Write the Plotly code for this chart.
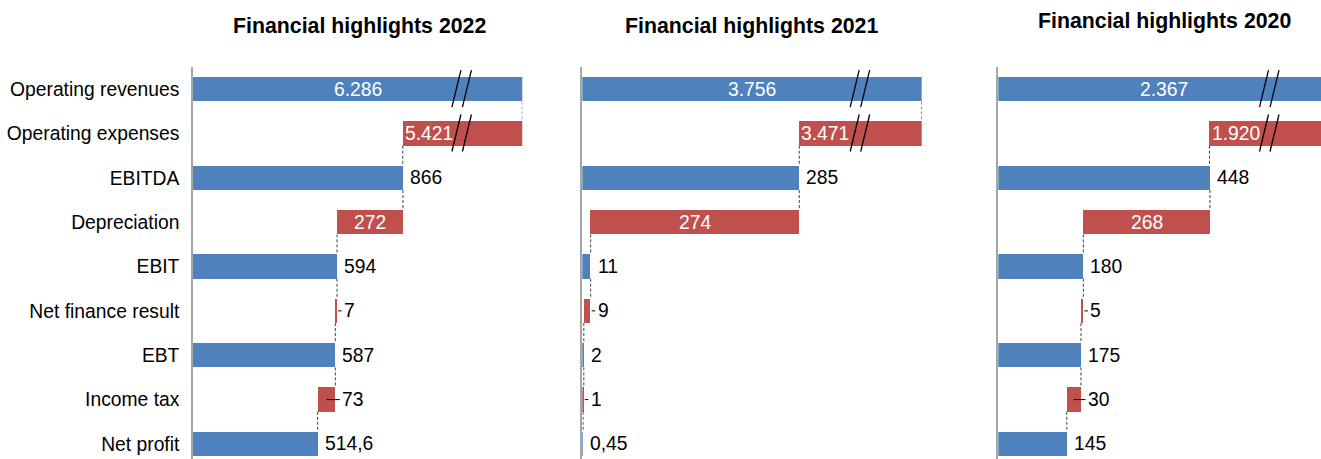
import plotly.graph_objects as go

# ---- data -------------------------------------------------------------
categories = ["Operating revenues", "Operating expenses", "EBITDA", "Depreciation",
              "EBIT", "Net finance result", "EBT", "Income tax", "Net profit"]
# "total" bars start at zero, "minus" bars hang down from the previous total
kinds = ["total", "minus", "total", "minus", "total", "minus", "total", "minus", "total"]

years = ["2022", "2021", "2020"]
values_2022 = [6286, 5421, 866, 272, 594, 7, 587, 73, 514.6]
values_2021 = [3756, 3471, 285, 274, 11, 9, 2, 1, 0.45]
values_2020 = [2367, 1920, 448, 268, 180, 5, 175, 30, 145]
labels_2022 = ["6.286", "5.421", "866", "272", "594", "7", "587", "73", "514,6"]
labels_2021 = ["3.756", "3.471", "285", "274", "11", "9", "2", "1", "0,45"]
labels_2020 = ["2.367", "1.920", "448", "268", "180", "5", "175", "30", "145"]

# ---- layout constants -------------------------------------------------
W, H = 1321, 459
TOP = 67
BAR_W = 0.55
BLUE = "#4F81BD"
RED = "#C0504D"
FONT = "Arial, 'Liberation Sans', sans-serif"
LABEL_SIZE = 19.3
TITLE_SIZE = 21.3

panels = [
    dict(year=years[0], values=values_2022, labels=labels_2022,
         left=193.0, right=522.3, xmax=1358.0, cut=1358.0, brk=1109.0,
         title_x=359, title_y=26),
    dict(year=years[1], values=values_2021, labels=labels_2021,
         left=582.3, right=921.7, xmax=445.8, cut=445.8, brk=365.0,
         title_x=751.5, title_y=26),
    dict(year=years[2], values=values_2020, labels=labels_2020,
         left=998.3, right=1321.0, xmax=683.0, cut=702.0, brk=574.0,
         title_x=1164, title_y=21),
]

fig = go.Figure()
shapes = []
annotations = []
plot_h = H - TOP

for k, p in enumerate(panels):
    suffix = "" if k == 0 else str(k + 1)
    xref, yref = "x" + suffix, "y" + suffix
    vals, labs = p["values"], p["labels"]
    px_per_unit = (p["right"] - p["left"]) / p["xmax"]

    # waterfall geometry
    bases, colors = [], []
    running = 0.0
    for kind, v in zip(kinds, vals):
        if kind == "total":
            bases.append(0.0)
            running = v
            colors.append(BLUE)
        else:
            bases.append(running - v)
            running = running - v
            colors.append(RED)

    fig.add_trace(go.Bar(
        x=vals, y=categories, base=bases, orientation="h",
        marker=dict(color=colors, line=dict(width=0)),
        width=BAR_W, xaxis=xref, yaxis=yref,
        hoverinfo="skip", showlegend=False,
    ))

    # dashed step connectors between neighbouring bars
    for i in range(len(vals) - 1):
        if i == 0:
            xpos = min(vals[0], p["cut"])
        elif kinds[i] == "total":
            xpos = vals[i]
        else:
            xpos = bases[i]
        shapes.append(dict(
            type="line", xref=xref, yref=yref,
            x0=xpos, x1=xpos, y0=i + BAR_W / 2, y1=i + 1 - BAR_W / 2,
            line=dict(color="#404040", width=1, dash="3px,2px"),
        ))

    # axis-break marks on the two truncated bars
    for i in (0, 1):
        for dx in (-10.0, 0.5):
            shapes.append(dict(
                type="line", xref=xref, yref=yref,
                xsizemode="pixel", ysizemode="pixel",
                xanchor=p["brk"], yanchor=i,
                x0=dx, x1=dx + 9.0, y0=-18, y1=19,
                line=dict(color="black", width=1.3),
            ))

    # value labels
    for i, (v, lab) in enumerate(zip(vals, labs)):
        top = bases[i] + v
        if i == 0:
            annotations.append(dict(
                x=min(v, p["cut"]) / 2, y=categories[i], xref=xref, yref=yref,
                text=lab, showarrow=False, xanchor="center",
                font=dict(color="white", size=LABEL_SIZE, family=FONT)))
        elif i == 1:
            annotations.append(dict(
                x=bases[i], y=categories[i], xref=xref, yref=yref,
                text=lab, showarrow=False, xanchor="left", xshift=0,
                font=dict(color="white", size=LABEL_SIZE, family=FONT)))
        elif kinds[i] == "minus" and v * px_per_unit > 50:
            annotations.append(dict(
                x=bases[i] + v / 2, y=categories[i], xref=xref, yref=yref,
                text=lab, showarrow=False, xanchor="center",
                font=dict(color="white", size=LABEL_SIZE, family=FONT)))
        else:
            annotations.append(dict(
                x=top, y=categories[i], xref=xref, yref=yref,
                text=lab, showarrow=False, xanchor="left", xshift=5,
                font=dict(color="black", size=LABEL_SIZE, family=FONT)))
            if kinds[i] == "minus":
                width_px = v * px_per_unit
                start = -min(width_px / 2, 9.0) if width_px > 10 else 1.0
                shapes.append(dict(
                    type="line", xref=xref, yref=yref,
                    xsizemode="pixel", xanchor=top,
                    x0=start, x1=4.5, y0=i, y1=i,
                    line=dict(color="black", width=1),
                ))

    # panel title
    annotations.append(dict(
        x=p["title_x"] / W, y=(H - p["title_y"]) / plot_h,
        xref="paper", yref="paper", text="<b>Financial highlights %s</b>" % p["year"],
        showarrow=False, xanchor="center", yanchor="middle",
        font=dict(color="black", size=TITLE_SIZE, family=FONT)))

    fig.update_layout(**{
        "xaxis" + suffix: dict(
            domain=[p["left"] / W, p["right"] / W], range=[0, p["xmax"]],
            visible=False, showgrid=False, zeroline=False, fixedrange=True,
            anchor=yref),
        "yaxis" + suffix: dict(
            domain=[0, 1], anchor=xref, type="category",
            categoryorder="array", categoryarray=categories,
            range=[8.34, -0.5], showline=True, linecolor="#A6A6A6", linewidth=1.5,
            ticks="", showgrid=False, zeroline=False, showticklabels=(k == 0),
            ticklabelstandoff=8, fixedrange=True,
            tickfont=dict(size=LABEL_SIZE, color="black", family=FONT)),
    })

fig.update_layout(
    width=W, height=H,
    margin=dict(l=0, r=0, t=TOP, b=0, pad=0),
    paper_bgcolor="white", plot_bgcolor="white",
    font=dict(family=FONT, size=LABEL_SIZE, color="black"),
    bargap=0, shapes=shapes, annotations=annotations,
)

fig.write_html("out.html")
